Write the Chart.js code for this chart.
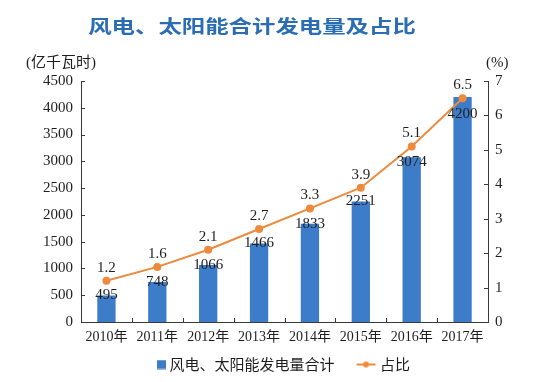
<!DOCTYPE html>
<html><head><meta charset="utf-8">
<script src="https://cdn.jsdelivr.net/npm/chart.js@4"></script>
<style>html,body{margin:0;padding:0;background:#fff;}#wrap{width:548px;height:382px;position:relative;}</style>
</head><body><div id="wrap"><canvas id="c" width="548" height="382"></canvas></div>
<script>
const categories = ['2010年','2011年','2012年','2013年','2014年','2015年','2016年','2017年'];
const generation = [495, 748, 1066, 1466, 1833, 2251, 3074, 4200];
const share = [1.2, 1.6, 2.1, 2.7, 3.3, 3.9, 5.1, 6.5];
const leftTickValues = [0, 500, 1000, 1500, 2000, 2500, 3000, 3500, 4000, 4500];
const rightTickValues = [0, 1, 2, 3, 4, 5, 6, 7];
const titleText = '风电、太阳能合计发电量及占比';
const leftUnit = '(亿千瓦时)';
const rightUnit = '(%)';
const barLabel = '风电、太阳能发电量合计';
const lineLabel = '占比';

const BAR = '#3d7cc9', LINE = '#ee8a3c', AXIS = '#3a3a3a', TXT = '#1e1e1e', TITLE = '#2a6db4';
const SERIF = "'Liberation Serif','Noto Sans CJK SC',serif";
const CJK = "'Noto Sans CJK SC',sans-serif";

function makeSquare(){const c=document.createElement('canvas');c.width=36;c.height=10;const g=c.getContext('2d');g.fillStyle=BAR;g.fillRect(25,0.5,9,9);return c;}
function makeLineIcon(){const c=document.createElement('canvas');c.width=36;c.height=10;const g=c.getContext('2d');g.strokeStyle=LINE;g.lineWidth=2;g.beginPath();g.moveTo(14,5);g.lineTo(33,5);g.stroke();g.fillStyle=LINE;g.beginPath();g.arc(23.5,5,3,0,Math.PI*2);g.fill();return c;}
const squareIcon = makeSquare(), lineIcon = makeLineIcon();

const inwardTicks = {id:'inwardTicks', afterDraw(chart){
  const {ctx, chartArea:a, scales} = chart;
  ctx.save(); ctx.strokeStyle = AXIS; ctx.lineWidth = 1; ctx.beginPath();
  scales.y.ticks.forEach(t=>{const y=Math.round(scales.y.getPixelForValue(t.value))+0.5; ctx.moveTo(a.left,y); ctx.lineTo(a.left+4,y);});
  scales.y1.ticks.forEach(t=>{const y=Math.round(scales.y1.getPixelForValue(t.value))+0.5; ctx.moveTo(a.right,y); ctx.lineTo(a.right-4,y);});
  for(let i=0;i<categories.length-1;i++){const x=Math.round((scales.x.getPixelForValue(i)+scales.x.getPixelForValue(i+1))/2)+0.5; ctx.moveTo(x,a.bottom); ctx.lineTo(x,a.bottom-4);}
  ctx.stroke(); ctx.restore();
}};

const valueLabels = {id:'valueLabels', afterDatasetsDraw(chart){
  const ctx = chart.ctx, bm = chart.getDatasetMeta(0), lm = chart.getDatasetMeta(1);
  ctx.save(); ctx.font = '15px ' + SERIF; ctx.fillStyle = TXT; ctx.textAlign='center'; ctx.textBaseline='middle';
  bm.data.forEach((bar,i)=>{ let y = bar.y; const py = lm.data[i].y; if (Math.abs(y-py) < 12) y = py + 16; ctx.fillText(String(generation[i]), bar.x, y); });
  lm.data.forEach((pt,i)=>{ ctx.fillText(share[i].toFixed(1), pt.x, pt.y - 13); });
  ctx.restore();
}};

const headings = {id:'headings', afterDraw(chart){
  const ctx = chart.ctx;
  ctx.save();
  ctx.fillStyle = TITLE; ctx.font = 'bold 18px ' + CJK; ctx.textAlign='center'; ctx.textBaseline='middle';
  ctx.translate(252, 26); ctx.scale(1.3, 1); ctx.fillText(titleText, 0, 0);
  ctx.restore();
  ctx.save();
  ctx.fillStyle = TXT; ctx.font = '15px ' + SERIF; ctx.textBaseline='middle';
  ctx.textAlign='left'; ctx.fillText(leftUnit, 26, 63);
  ctx.textAlign='left'; ctx.fillText(rightUnit, 486, 63);
  ctx.restore();
}};

new Chart(document.getElementById('c'), {
  data: {
    labels: categories,
    datasets: [
      {type:'bar', label:barLabel, data:generation, yAxisID:'y', backgroundColor:BAR, categoryPercentage:1, barPercentage:0.36, order:2},
      {type:'line', label:lineLabel, data:share, yAxisID:'y1', borderColor:LINE, borderWidth:2, pointRadius:4, pointBackgroundColor:LINE, pointBorderWidth:0, tension:0, order:1}
    ]
  },
  options: {
    responsive:false, animation:false, devicePixelRatio:1,
    layout:{padding:{top:81, left:0, right:0, bottom:0}},
    plugins:{
      tooltip:{enabled:false},
      legend:{position:'bottom', labels:{usePointStyle:true, pointStyleWidth:24, boxHeight:10, padding:14, color:TXT, font:{family:CJK, size:15},
        generateLabels:()=>[
          {text:barLabel, pointStyle:squareIcon, fillStyle:BAR, strokeStyle:BAR, lineWidth:0, hidden:false, datasetIndex:0, fontColor:TXT},
          {text:lineLabel, pointStyle:lineIcon, fillStyle:LINE, strokeStyle:LINE, lineWidth:0, hidden:false, datasetIndex:1, fontColor:TXT}
        ]}}
    },
    scales:{
      x:{offset:true, grid:{display:false, drawTicks:false}, border:{color:AXIS, width:1},
         ticks:{padding:7, color:TXT, font:{family:SERIF, size:14}, maxRotation:0, autoSkip:false},
         afterFit:s=>{s.height=21;}},
      y:{position:'left', min:0, max:4500, grid:{display:false, drawTicks:false}, border:{color:AXIS, width:1},
         afterBuildTicks:s=>{s.ticks=leftTickValues.map(v=>({value:v}));},
         ticks:{padding:8, color:TXT, font:{family:SERIF, size:15}, callback:v=>String(v)},
         afterFit:s=>{s.width=81;}},
      y1:{position:'right', min:0, max:7, grid:{display:false, drawTicks:false}, border:{color:AXIS, width:1},
         afterBuildTicks:s=>{s.ticks=rightTickValues.map(v=>({value:v}));},
         ticks:{padding:7, color:TXT, font:{family:SERIF, size:15}, callback:v=>String(v)},
         afterFit:s=>{s.width=60;}}
    }
  },
  plugins:[inwardTicks, valueLabels, headings]
});
</script></body></html>
